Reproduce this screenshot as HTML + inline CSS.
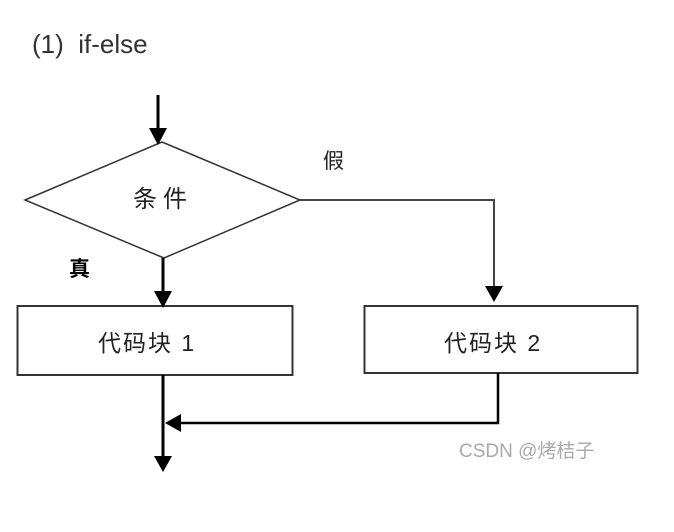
<!DOCTYPE html>
<html><head><meta charset="utf-8"><style>
body{margin:0;background:#fff;width:674px;height:527px;overflow:hidden}
</style></head><body>
<svg width="674" height="527" xmlns="http://www.w3.org/2000/svg" font-family="'Liberation Sans','Noto Sans CJK SC',sans-serif">
<text x="32" y="53" font-size="26" fill="#333">(1)&#160;&#160;if-else</text>
<g stroke="#000" fill="none">
<line x1="158" y1="95" x2="158" y2="130" stroke-width="3"/>
<polygon points="25,200 162,142 300,200 164,258" stroke-width="1.5" stroke="#333"/>
<line x1="163" y1="258" x2="163" y2="294" stroke-width="3"/>
<polyline points="300,200 494,200 494,288" stroke-width="2" stroke="#444"/>
<rect x="17.5" y="306" width="275" height="69" stroke-width="2" stroke="#333"/>
<rect x="364.5" y="306" width="273" height="67" stroke-width="2" stroke="#333"/>
<polyline points="498,373 498,423 178,423" stroke-width="2.5"/>
<line x1="163" y1="375" x2="163" y2="458" stroke-width="3"/>
</g>
<g fill="#000">
<polygon points="149,128 167,128 158,145"/>
<polygon points="154,291 172,291 163,308"/>
<polygon points="485,286 503,286 494,302"/>
<polygon points="165,423 181,414 181,432"/>
<polygon points="154,456 172,456 163,472"/>
</g>
<text x="163" y="207" font-size="24" text-anchor="middle" letter-spacing="6" fill="#222" font-family="'Noto Sans CJK SC',sans-serif">条件</text>
<text x="323" y="168" font-size="21" fill="#222" font-family="'Noto Sans CJK SC',sans-serif">假</text>
<text x="69" y="276" font-size="21" fill="#000" font-weight="bold" font-family="'Noto Sans CJK SC',sans-serif">真</text>
<text x="98" y="351" font-size="23" letter-spacing="2" fill="#222">代码块 1</text>
<text x="444" y="351" font-size="23" letter-spacing="2" fill="#222">代码块 2</text>
<text x="459" y="457" font-size="19" fill="#aaa">CSDN @烤桔子</text>
</svg>
</body></html>
